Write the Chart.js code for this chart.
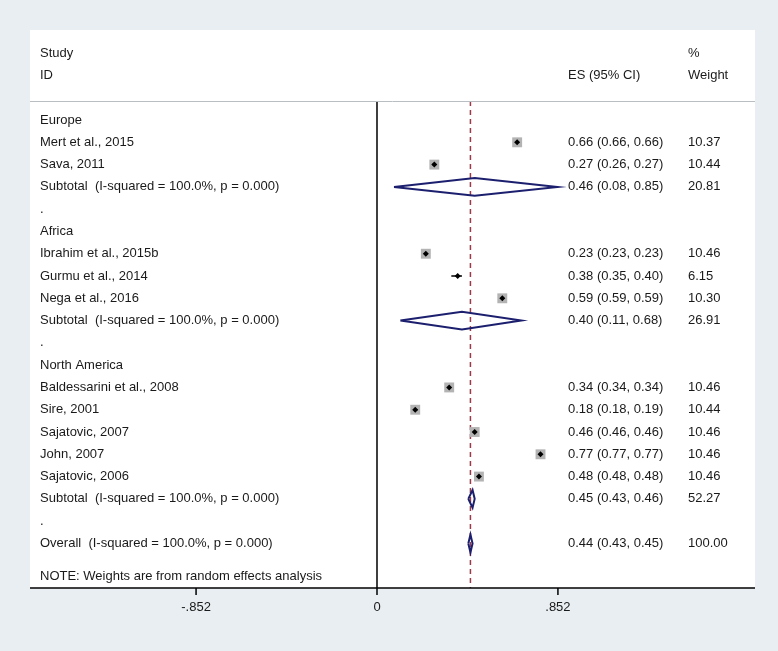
<!DOCTYPE html>
<html>
<head>
<meta charset="utf-8">
<script src="https://cdn.jsdelivr.net/npm/chart.js@4.4.0/dist/chart.umd.min.js"></script>
<style>
  html, body { margin: 0; padding: 0; background: #e8eef1; }
  canvas { display: block; }
</style>
</head>
<body>
<canvas id="forest" width="778" height="651"></canvas>
<script>
// Forest plot data (one entry per row, top to bottom)
const studyLabels = [
    'Europe', 'Mert et al., 2015', 'Sava, 2011', 'Subtotal  (I-squared = 100.0%, p = 0.000)', '.',
    'Africa', 'Ibrahim et al., 2015b', 'Gurmu et al., 2014', 'Nega et al., 2016', 'Subtotal  (I-squared = 100.0%, p = 0.000)', '.',
    'North America', 'Baldessarini et al., 2008', 'Sire, 2001', 'Sajatovic, 2007', 'John, 2007', 'Sajatovic, 2006',
    'Subtotal  (I-squared = 100.0%, p = 0.000)', '.', 'Overall  (I-squared = 100.0%, p = 0.000)'
];
const rowKind = [
    'head', 'study', 'study', 'pooled', 'gap',
    'head', 'study', 'study', 'study', 'pooled', 'gap',
    'head', 'study', 'study', 'study', 'study', 'study',
    'pooled', 'gap', 'pooled'
];
const esValues = [null, 0.66, 0.27, 0.46, null, null, 0.23, 0.38, 0.59, 0.40, null, null, 0.34, 0.18, 0.46, 0.77, 0.48, 0.45, null, 0.44];
const ciLower  = [null, 0.66, 0.26, 0.08, null, null, 0.23, 0.35, 0.59, 0.11, null, null, 0.34, 0.18, 0.46, 0.77, 0.48, 0.43, null, 0.43];
const ciUpper  = [null, 0.66, 0.27, 0.85, null, null, 0.23, 0.40, 0.59, 0.68, null, null, 0.34, 0.19, 0.46, 0.77, 0.48, 0.46, null, 0.45];
const weights  = [null, '10.37', '10.44', '20.81', null, null, '10.46', '6.15', '10.30', '26.91', null, null, '10.46', '10.44', '10.46', '10.46', '10.46', '52.27', null, '100.00'];
const xTicks = [-0.852, 0, 0.852];
const xTickLabels = ['-.852', '0', '.852'];
const overallES = 0.44;
const noteText = 'NOTE: Weights are from random effects analysis';

const fmt = v => v.toFixed(2);
const textFont = '13px "Liberation Sans", Arial, sans-serif';
const headerRow = -0.85;   // header separator line position (in row units)
const noteRow = 20.5;
const axisRow = 21.0;

// Build datasets from the arrays
const ciPoints = [];
const boxPoints = [];
const dotPoints = [];
const diamondPoints = [];
esValues.forEach((es, i) => {
    if (es === null) return;
    if (rowKind[i] === 'study') {
        ciPoints.push({ x: ciLower[i], y: i }, { x: ciUpper[i], y: i }, { x: NaN, y: NaN });
        boxPoints.push({ x: es, y: i, w: parseFloat(weights[i]) });
        dotPoints.push({ x: es, y: i });
    } else {
        const h = 0.4;
        diamondPoints.push(
            { x: ciLower[i], y: i }, { x: es, y: i - h }, { x: ciUpper[i], y: i },
            { x: es, y: i + h }, { x: ciLower[i], y: i }, { x: NaN, y: NaN }
        );
    }
});

const forestText = {
    id: 'forestText',
    beforeDraw(chart) {
        const { ctx, chartArea: a } = chart;
        ctx.save();
        ctx.fillStyle = '#ffffff';
        ctx.fillRect(a.left, a.top, a.right - a.left, a.bottom - a.top);
        ctx.restore();
    },
    afterDraw(chart) {
        const { ctx, chartArea: a } = chart;
        const x = chart.scales.x, y = chart.scales.y;
        const labelX = a.left + 10, esX = 568, wX = 688;
        ctx.save();
        ctx.font = textFont;
        ctx.fillStyle = '#1a1a1a';
        ctx.textBaseline = 'middle';
        ctx.textAlign = 'left';
        // header
        ctx.fillText('Study', labelX, y.getPixelForValue(-3.0));
        ctx.fillText('ID', labelX, y.getPixelForValue(-2.02));
        ctx.fillText('ES (95% CI)', esX, y.getPixelForValue(-2.02));
        ctx.fillText('%', wX, y.getPixelForValue(-3.0));
        ctx.fillText('Weight', wX, y.getPixelForValue(-2.02));
        // rows
        studyLabels.forEach((lab, i) => {
            const py = y.getPixelForValue(i);
            ctx.fillText(lab, labelX, py);
            if (esValues[i] !== null) {
                ctx.fillText(fmt(esValues[i]) + ' (' + fmt(ciLower[i]) + ', ' + fmt(ciUpper[i]) + ')', esX, py);
                ctx.fillText(weights[i], wX, py);
            }
        });
        ctx.fillText(noteText, labelX, y.getPixelForValue(noteRow));
        // header separator
        const hy = Math.round(y.getPixelForValue(headerRow)) + 0.5;
        ctx.strokeStyle = '#b9bec3';
        ctx.lineWidth = 1;
        ctx.beginPath();
        ctx.moveTo(a.left, hy);
        ctx.lineTo(a.right, hy);
        ctx.stroke();
        // x axis
        const ay = y.getPixelForValue(axisRow);
        ctx.strokeStyle = '#000000';
        ctx.lineWidth = 1.5;
        ctx.beginPath();
        ctx.moveTo(a.left, ay);
        ctx.lineTo(a.right, ay);
        ctx.stroke();
        ctx.textAlign = 'center';
        ctx.textBaseline = 'top';
        xTicks.forEach((t, k) => {
            const px = x.getPixelForValue(t);
            ctx.beginPath();
            ctx.moveTo(px, ay);
            ctx.lineTo(px, ay + 7);
            ctx.stroke();
            ctx.fillText(xTickLabels[k], px, ay + 13);
        });
        ctx.restore();
    }
};

// datasets listed top-most first (Chart.js draws the first dataset last)
new Chart(document.getElementById('forest'), {
    type: 'scatter',
    data: {
        datasets: [
            {
                data: diamondPoints,
                showLine: true, spanGaps: false, borderColor: '#1c1f6e', borderWidth: 2, pointRadius: 0
            },
            {
                data: dotPoints,
                pointStyle: 'rectRot', pointRadius: 3,
                backgroundColor: '#000000', borderWidth: 0
            },
            {
                data: ciPoints,
                showLine: true, spanGaps: false, borderColor: '#000000', borderWidth: 1.5, pointRadius: 0
            },
            {
                data: boxPoints,
                pointStyle: 'rect',
                pointRadius: ctx => (ctx.raw && ctx.raw.w >= 10 ? 7 : 0),
                backgroundColor: '#b3b3b3', borderWidth: 0
            },
            {
                // overall estimate line
                data: [{ x: overallES, y: headerRow }, { x: overallES, y: axisRow }],
                showLine: true, borderColor: '#9b3a48', borderWidth: 1.5, borderDash: [5, 4], pointRadius: 0
            },
            {
                // zero reference line
                data: [{ x: 0, y: headerRow }, { x: 0, y: axisRow }],
                showLine: true, borderColor: '#000000', borderWidth: 1.5, pointRadius: 0
            }
        ]
    },
    options: {
        responsive: false,
        animation: false,
        layout: { padding: { left: 30, right: 23, top: 30, bottom: 63 } },
        plugins: { legend: { display: false }, tooltip: { enabled: false } },
        scales: {
            x: { type: 'linear', min: -1.634, max: 1.78, display: false },
            y: { type: 'linear', min: -4.04, max: 21.0, reverse: true, display: false }
        }
    },
    plugins: [forestText]
});
</script>
</body>
</html>
